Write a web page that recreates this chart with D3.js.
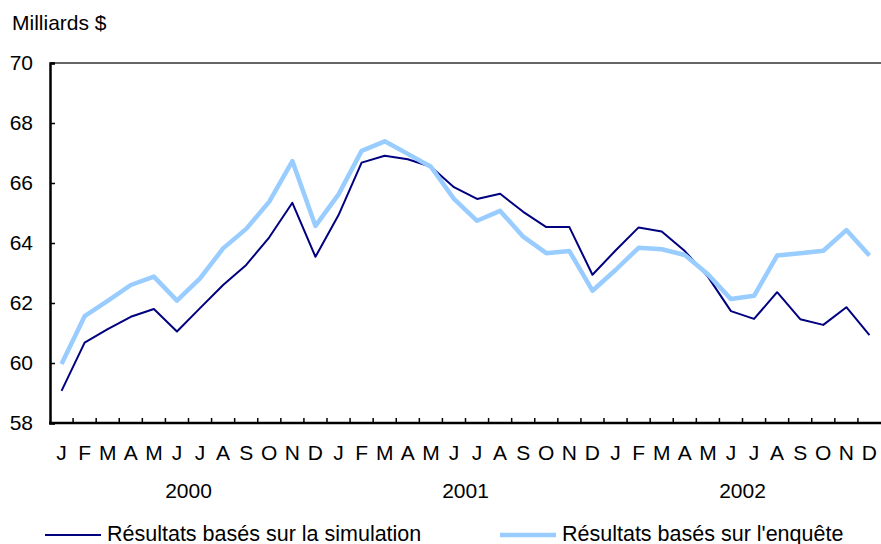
<!DOCTYPE html>
<html>
<head>
<meta charset="utf-8">
<script src="https://cdn.jsdelivr.net/npm/d3@7"></script>
<style>
	body { margin: 0; background: #fff; }
	svg { display: block; font-family: "Liberation Sans", Arial, Helvetica, sans-serif; }
</style>
</head>
<body>
<div id="visHolder"></div>
<script>
const years = ["2000", "2001", "2002"];
const monthLetters = ["J", "F", "M", "A", "M", "J", "J", "A", "S", "O", "N", "D"];
const yTicks = [58, 60, 62, 64, 66, 68, 70];

// Résultats basés sur la simulation
const simulation = [
	59.07, 60.68, 61.13, 61.54, 61.8, 61.05, 61.83, 62.6, 63.27, 64.19, 65.34, 63.54,
	64.93, 66.68, 66.91, 66.79, 66.54, 65.86, 65.47, 65.64, 65.04, 64.53, 64.53, 62.94,
	63.75, 64.52, 64.38, 63.73, 62.88, 61.73, 61.47, 62.36, 61.46, 61.27, 61.86, 60.93,
];
// Résultats basés sur l'enquête
const enquete = [
	59.97, 61.56, 62.07, 62.6, 62.88, 62.08, 62.82, 63.82, 64.47, 65.38, 66.73, 64.57,
	65.62, 67.07, 67.39, 66.97, 66.54, 65.47, 64.74, 65.07, 64.21, 63.66, 63.73, 62.41,
	63.1, 63.84, 63.79, 63.6, 62.96, 62.13, 62.24, 63.58, 63.66, 63.74, 64.43, 63.58,
];

const seriesNames = ["Résultats basés sur la simulation", "Résultats basés sur l'enquête"];
const seriesColors = ["#000080", "#99ccff"];
const seriesWidths = [2, 4.5];

const width = 881;
const height = 544;
const margin = { top: 63, right: 0, bottom: 121, left: 50 };
const fontSize = 21;

const periods = years.flatMap((y) => monthLetters.map((m, i) => `${y}-${i}`));

const svg = d3
	.select("#visHolder")
	.append("svg")
	.attr("width", width)
	.attr("height", height);

const x = d3
	.scaleBand()
	.domain(periods)
	.range([margin.left, width - margin.right]);

const y = d3
	.scaleLinear()
	.domain([58, 70])
	.range([height - margin.bottom, margin.top]);

//top frame line
svg
	.append("line")
	.attr("x1", margin.left)
	.attr("x2", width)
	.attr("y1", y(70))
	.attr("y2", y(70))
	.attr("stroke", "#333")
	.attr("stroke-width", 1.5);

//y axis
const yAxis = svg
	.append("g")
	.attr("transform", `translate(${margin.left},0)`)
	.call(d3.axisRight(y).tickValues(yTicks).tickSize(5).tickFormat(""));
yAxis.select(".domain").attr("stroke", "#000").attr("stroke-width", 2.5);
yAxis.selectAll(".tick line").attr("stroke", "#000").attr("stroke-width", 1.5);

svg
	.append("g")
	.selectAll("text")
	.data(yTicks)
	.join("text")
	.attr("x", 33)
	.attr("y", (d) => y(d))
	.attr("dy", "0.35em")
	.attr("text-anchor", "end")
	.attr("font-size", fontSize)
	.text((d) => d);

//x axis
const boundaries = periods.slice(1);
const xAxis = svg
	.append("g")
	.attr("transform", `translate(0,${y(58)})`);
xAxis
	.selectAll("line")
	.data(boundaries)
	.join("line")
	.attr("x1", (d) => x(d))
	.attr("x2", (d) => x(d))
	.attr("y1", 0)
	.attr("y2", -5)
	.attr("stroke", "#000")
	.attr("stroke-width", 1.5);
xAxis
	.append("line")
	.attr("x1", margin.left - 1)
	.attr("x2", width)
	.attr("y1", 0)
	.attr("y2", 0)
	.attr("stroke", "#000")
	.attr("stroke-width", 2.5);

svg
	.append("g")
	.selectAll("text")
	.data(periods)
	.join("text")
	.attr("x", (d) => x(d) + x.bandwidth() / 2)
	.attr("y", 460)
	.attr("text-anchor", "middle")
	.attr("font-size", fontSize)
	.text((d) => monthLetters[+d.split("-")[1]]);

svg
	.append("g")
	.selectAll("text")
	.data(years)
	.join("text")
	.attr("x", (d) => (x(`${d}-0`) + x(`${d}-11`) + x.bandwidth()) / 2)
	.attr("y", 498)
	.attr("text-anchor", "middle")
	.attr("font-size", fontSize)
	.text((d) => d);

//unit label
svg
	.append("text")
	.attr("x", 12)
	.attr("y", 30)
	.attr("font-size", fontSize)
	.text("Milliards $");

//lines
const line = d3
	.line()
	.x((d, i) => x(periods[i]) + x.bandwidth() / 2)
	.y((d) => y(d));

svg
	.append("g")
	.selectAll("path")
	.data([simulation, enquete])
	.join("path")
	.attr("fill", "none")
	.attr("stroke", (d, i) => seriesColors[i])
	.attr("stroke-width", (d, i) => seriesWidths[i])
	.attr("stroke-linejoin", "round")
	.attr("d", line);

//legend
const legendX = [45, 500];
const legend = svg
	.append("g")
	.selectAll("g")
	.data(seriesNames)
	.join("g")
	.attr("transform", (d, i) => `translate(${legendX[i]},535)`);
legend
	.append("line")
	.attr("x1", 0)
	.attr("x2", 56)
	.attr("stroke", (d, i) => seriesColors[i])
	.attr("stroke-width", (d, i) => seriesWidths[i]);
legend
	.append("text")
	.attr("x", 62)
	.attr("y", 6)
	.attr("font-size", 21.5)
	.text((d) => d);
</script>
</body>
</html>
